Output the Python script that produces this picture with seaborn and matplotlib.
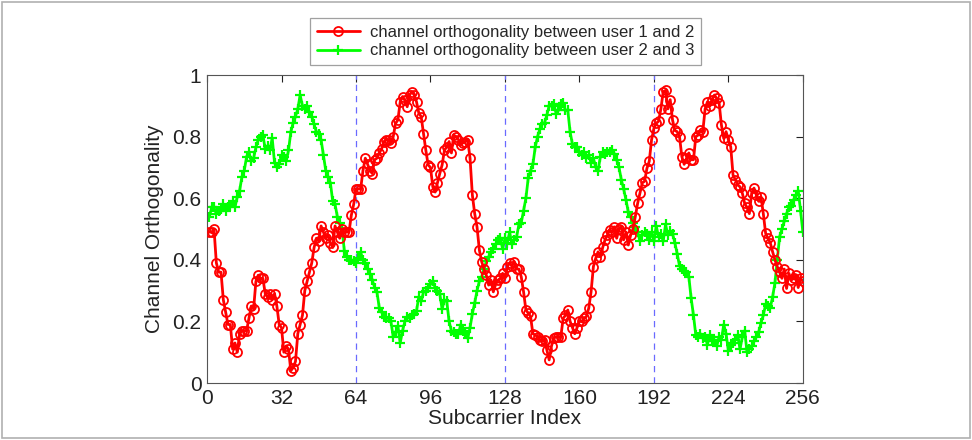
import numpy as np
import pandas as pd
import matplotlib
matplotlib.use("Agg")
import matplotlib.pyplot as plt
import seaborn as sns
from matplotlib.patches import Rectangle

# ---------------- data ----------------
subcarrier = list(range(1, 257))

orth_user12 = [
    0.49, 0.49, 0.50, 0.39, 0.36, 0.36, 0.27, 0.23, 0.19, 0.19, 0.11, 0.13, 0.10, 0.16, 0.17, 0.17,
    0.17, 0.21, 0.25, 0.24, 0.33, 0.35, 0.34, 0.34, 0.29, 0.28, 0.29, 0.27, 0.29, 0.25, 0.19, 0.18,
    0.10, 0.12, 0.11, 0.04, 0.05, 0.07, 0.16, 0.19, 0.22, 0.30, 0.33, 0.36, 0.39, 0.44, 0.47, 0.46,
    0.51, 0.49, 0.47, 0.48, 0.455, 0.44, 0.51, 0.49, 0.47, 0.50, 0.49, 0.49, 0.49, 0.545, 0.58, 0.63,
    0.63, 0.63, 0.69, 0.73, 0.71, 0.69, 0.68, 0.725, 0.73, 0.747, 0.76, 0.784, 0.79, 0.79, 0.78, 0.80,
    0.843, 0.854, 0.913, 0.93, 0.92, 0.897, 0.935, 0.946, 0.935, 0.913, 0.876, 0.865, 0.81, 0.756, 0.708, 0.70,
    0.637, 0.62, 0.65, 0.68, 0.708, 0.756, 0.767, 0.784, 0.747, 0.805, 0.80, 0.79, 0.774, 0.78, 0.784, 0.79,
    0.73, 0.61, 0.55, 0.507, 0.432, 0.394, 0.37, 0.35, 0.318, 0.334, 0.296, 0.32, 0.334, 0.34, 0.356, 0.34,
    0.378, 0.39, 0.38, 0.394, 0.37, 0.37, 0.345, 0.296, 0.237, 0.227, 0.216, 0.16, 0.156, 0.15, 0.14, 0.135,
    0.14, 0.107, 0.075, 0.12, 0.146, 0.15, 0.15, 0.15, 0.21, 0.22, 0.237, 0.20, 0.18, 0.16, 0.18, 0.20,
    0.20, 0.21, 0.216, 0.243, 0.296, 0.378, 0.405, 0.426, 0.41, 0.44, 0.465, 0.48, 0.497, 0.49, 0.507, 0.47,
    0.50, 0.507, 0.465, 0.49, 0.448, 0.48, 0.50, 0.54, 0.583, 0.616, 0.65, 0.655, 0.697, 0.72, 0.79, 0.827,
    0.843, 0.85, 0.89, 0.946, 0.95, 0.89, 0.92, 0.854, 0.82, 0.816, 0.80, 0.735, 0.71, 0.73, 0.747, 0.725,
    0.725, 0.80, 0.805, 0.82, 0.816, 0.89, 0.913, 0.90, 0.92, 0.935, 0.924, 0.91, 0.838, 0.794, 0.816, 0.79,
    0.767, 0.675, 0.66, 0.643, 0.637, 0.616, 0.583, 0.57, 0.55, 0.616, 0.633, 0.61, 0.59, 0.605, 0.55, 0.486,
    0.47, 0.455, 0.426, 0.40, 0.378, 0.36, 0.34, 0.37, 0.307, 0.356, 0.334, 0.34, 0.35, 0.31, 0.34, 0.33,
]

orth_user23 = [
    0.54, 0.57, 0.57, 0.55, 0.56, 0.565, 0.58, 0.56, 0.57, 0.575, 0.59, 0.57, 0.605, 0.625, 0.67, 0.69,
    0.735, 0.75, 0.72, 0.73, 0.765, 0.79, 0.80, 0.805, 0.76, 0.77, 0.755, 0.795, 0.715, 0.70, 0.71, 0.74,
    0.735, 0.72, 0.755, 0.815, 0.845, 0.865, 0.89, 0.935, 0.90, 0.89, 0.90, 0.88, 0.865, 0.84, 0.815, 0.81,
    0.79, 0.74, 0.69, 0.67, 0.65, 0.59, 0.58, 0.54, 0.52, 0.50, 0.43, 0.41, 0.40, 0.40, 0.395, 0.39,
    0.405, 0.425, 0.40, 0.39, 0.37, 0.355, 0.335, 0.31, 0.295, 0.245, 0.23, 0.215, 0.21, 0.21, 0.20, 0.15,
    0.165, 0.185, 0.13, 0.17, 0.20, 0.215, 0.21, 0.22, 0.225, 0.235, 0.28, 0.265, 0.295, 0.30, 0.31, 0.32,
    0.33, 0.31, 0.30, 0.29, 0.24, 0.27, 0.265, 0.20, 0.17, 0.165, 0.16, 0.16, 0.19, 0.17, 0.165, 0.145,
    0.18, 0.225, 0.26, 0.30, 0.33, 0.345, 0.37, 0.395, 0.41, 0.425, 0.435, 0.45, 0.465, 0.47, 0.435, 0.47,
    0.455, 0.49, 0.45, 0.465, 0.475, 0.515, 0.52, 0.56, 0.60, 0.665, 0.69, 0.71, 0.765, 0.80, 0.825, 0.84,
    0.845, 0.87, 0.90, 0.90, 0.905, 0.875, 0.885, 0.905, 0.91, 0.885, 0.885, 0.815, 0.775, 0.765, 0.765, 0.75,
    0.74, 0.75, 0.73, 0.74, 0.715, 0.73, 0.70, 0.69, 0.735, 0.75, 0.745, 0.75, 0.75, 0.755, 0.745, 0.725,
    0.70, 0.66, 0.63, 0.595, 0.555, 0.54, 0.52, 0.505, 0.49, 0.46, 0.48, 0.49, 0.485, 0.465, 0.49, 0.46,
    0.51, 0.475, 0.485, 0.46, 0.515, 0.48, 0.495, 0.485, 0.455, 0.42, 0.38, 0.37, 0.365, 0.36, 0.345, 0.275,
    0.22, 0.155, 0.15, 0.16, 0.145, 0.15, 0.125, 0.155, 0.135, 0.14, 0.12, 0.15, 0.14, 0.19, 0.16, 0.105,
    0.125, 0.13, 0.14, 0.155, 0.11, 0.15, 0.17, 0.10, 0.11, 0.12, 0.135, 0.15, 0.165, 0.195, 0.22, 0.255,
    0.25, 0.245, 0.28, 0.325, 0.40, 0.475, 0.50, 0.525, 0.55, 0.57, 0.575, 0.595, 0.61, 0.625, 0.56, 0.49,
]

xticks = [0, 32, 64, 96, 128, 160, 192, 224, 256]
yticks = [0, 0.2, 0.4, 0.6, 0.8, 1.0]
ytick_labels = ["0", "0.2", "0.4", "0.6", "0.8", "1"]
block_edges = [64, 128, 192]
label_12 = "channel orthogonality between user 1 and 2"
label_23 = "channel orthogonality between user 2 and 3"

# ---------------- plot ----------------
sns.set_style("white")
plt.rcParams["font.family"] = ["Liberation Sans", "DejaVu Sans"]

fig = plt.figure(figsize=(9.72, 4.40), dpi=100)
ax = fig.add_axes([0.213, 0.1295, 0.613, 0.700])

df = pd.DataFrame({"Subcarrier": subcarrier, "u12": orth_user12, "u23": orth_user23})

for xv in block_edges:
    ax.axvline(xv, color="#6a6aff", lw=0.9, ls=(0, (5, 4)), zorder=1)

sns.lineplot(data=df, x="Subcarrier", y="u12", ax=ax, color="#ff0000", lw=2.0,
             marker="o", markersize=6.5, markerfacecolor="none", markeredgecolor="#ff0000",
             markeredgewidth=1.3, label=label_12, zorder=3)
sns.lineplot(data=df, x="Subcarrier", y="u23", ax=ax, color="#00ff00", lw=2.0,
             marker="+", markersize=7, markeredgecolor="#00ff00",
             markeredgewidth=1.6, label=label_23, zorder=2)

ax.set_xlim(0, 256)
ax.set_ylim(0, 1)
ax.set_xticks(xticks)
ax.set_yticks(yticks)
ax.set_yticklabels(ytick_labels)
ax.tick_params(direction="in", length=5, width=0.8, labelsize=15, top=True, right=True,
               colors="#222222", pad=4)
for s in ax.spines.values():
    s.set_color("#555555")
    s.set_linewidth(0.8)
ax.set_xlabel("Subcarrier Index", fontsize=15, color="#222222", labelpad=1)
ax.set_ylabel("Channel Orthogonality", fontsize=15, color="#222222", labelpad=6)

leg = ax.legend(loc="center", bbox_to_anchor=(0.520, 0.905), bbox_transform=fig.transFigure,
                fontsize=12, frameon=True, fancybox=False, edgecolor="#888888",
                handlelength=2.6, borderpad=0.4, labelspacing=0.2, handletextpad=0.6)
leg.get_frame().set_linewidth(0.9)

fig.patches.append(Rectangle((0.002, 0.004), 0.996, 0.992, transform=fig.transFigure,
                             fill=False, edgecolor="#b0b0b0", lw=1.2))

fig.savefig("out.png", dpi=100)
